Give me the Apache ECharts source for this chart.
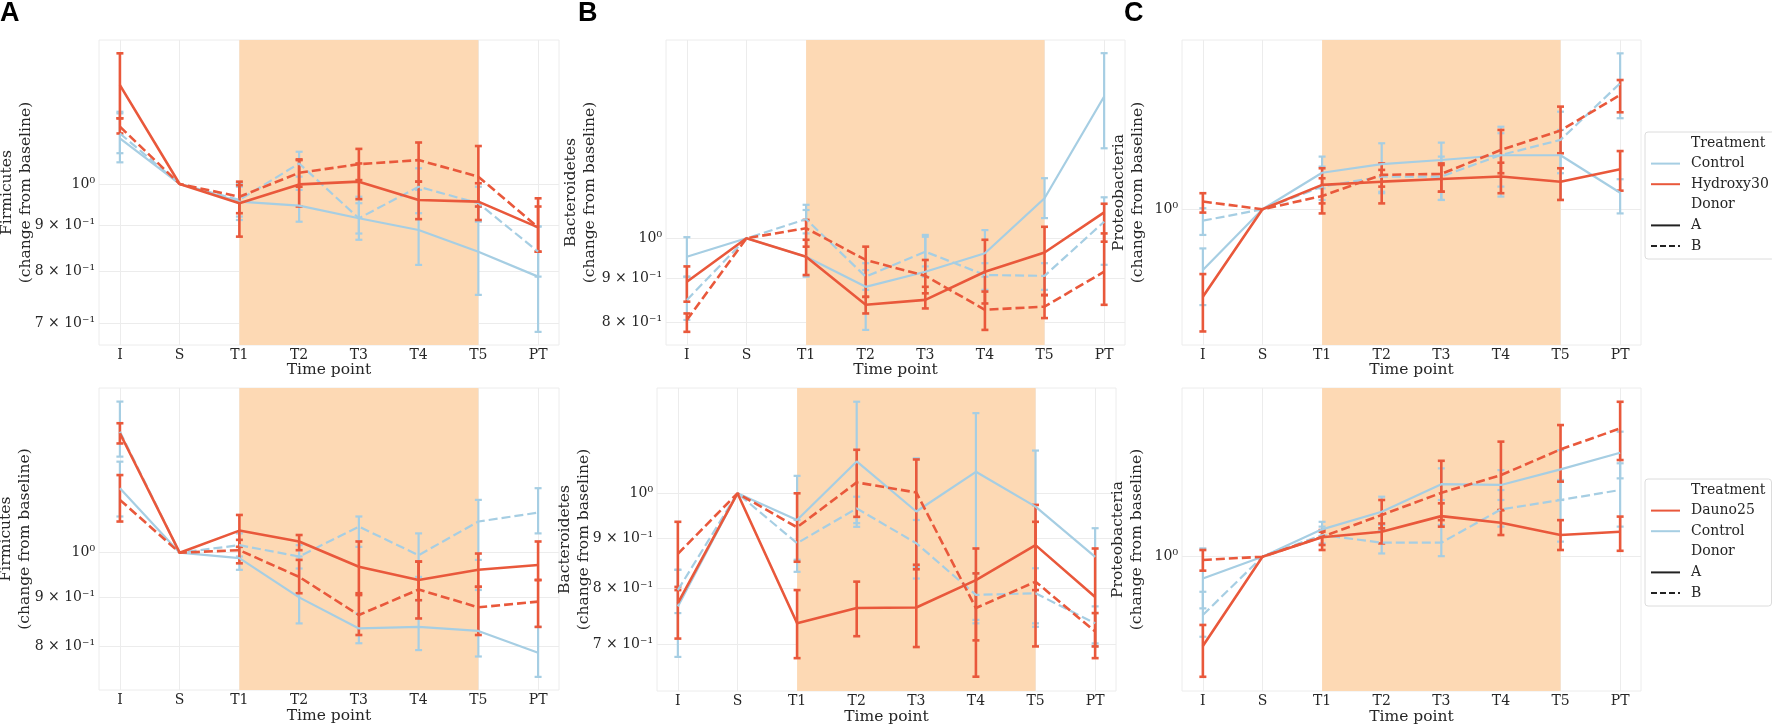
<!DOCTYPE html>
<html><head><meta charset="utf-8">
<script src="https://cdn.jsdelivr.net/npm/echarts@6/dist/echarts.min.js"></script>
<style>html,body{margin:0;padding:0;background:#fff}#c{width:1772px;height:728px}</style>
</head><body><div id="c"></div>
<script>
// ---------------- categories & tick labels ----------------
const timePoints = ['I', 'S', 'T1', 'T2', 'T3', 'T4', 'T5', 'PT'];
const yTickLabel = { '0.7': '7 × 10⁻¹', '0.8': '8 × 10⁻¹', '0.9': '9 × 10⁻¹', '1': '10⁰' };
const yTicksFirmHyd = [0.7, 0.8, 0.9, 1];
const yTicksFirmDau = [0.8, 0.9, 1];
const yTicksBactHyd = [0.8, 0.9, 1];
const yTicksBactDau = [0.7, 0.8, 0.9, 1];
const yTicksProt = [1];

// ---------------- A top: Firmicutes, Hydroxy30 ----------------
const firmHyd_ctrlA    = [1.124, 1, 0.956, 0.946, 0.916, 0.889, 0.841, 0.789];
const firmHyd_ctrlA_hi = [1.203, null, 0.993, 0.985, 0.968, 0.985, 0.944, 0.897];
const firmHyd_ctrlA_lo = [1.057, null, 0.920, 0.908, 0.867, 0.813, 0.753, 0.685];
const firmHyd_ctrlB    = [1.138, 1, 0.960, 1.054, 0.916, 0.993, 0.952, 0.841];
const firmHyd_ctrlB_hi = [1.198, null, 1.003, 1.086, 0.952, 1.041, 0.993, 0.897];
const firmHyd_ctrlB_lo = [1.082, null, 0.912, 1.019, 0.881, 0.928, 0.908, 0.789];
const firmHyd_trtA     = [1.288, 1, 0.952, 0.999, 1.006, 0.960, 0.956, 0.895];
const firmHyd_trtA_hi  = [1.397, null, 0.997, 1.065, 1.054, 1.006, 1.002, 0.964];
const firmHyd_trtA_lo  = [1.183, null, 0.874, 0.944, 0.962, 0.914, 0.912, 0.841];
const firmHyd_trtB     = [1.158, 1, 0.968, 1.029, 1.052, 1.063, 1.019, 0.895];
const firmHyd_trtB_hi  = [1.183, null, 1.006, 1.063, 1.094, 1.112, 1.102, 0.944];
const firmHyd_trtB_lo  = [1.138, null, 0.928, 0.993, 1.010, 1.006, 0.944, 0.841];

// ---------------- B top: Bacteroidetes, Hydroxy30 ----------------
const bactHyd_ctrlA    = [0.952, 1, 0.952, 0.879, 0.915, 0.961, 1.112, 1.457];
const bactHyd_ctrlA_hi = [1.003, null, 1.093, 0.919, 1.004, 1.022, 1.173, 1.635];
const bactHyd_ctrlA_lo = [0.903, null, 0.903, 0.784, 0.903, 0.903, 1.055, 1.270];
const bactHyd_ctrlB    = [0.849, 1, 1.052, 0.903, 0.965, 0.907, 0.905, 1.045];
const bactHyd_ctrlB_hi = [0.903, null, 1.078, 0.936, 1.009, 0.936, 0.936, 1.115];
const bactHyd_ctrlB_lo = [0.805, null, 1.013, 0.872, 0.928, 0.872, 0.872, 0.932];
const bactHyd_trtA     = [0.891, 1, 0.952, 0.838, 0.849, 0.915, 0.963, 1.071];
const bactHyd_trtA_hi  = [0.928, null, 0.996, 0.856, 0.879, 0.996, 1.031, 1.096];
const bactHyd_trtA_lo  = [0.845, null, 0.907, 0.819, 0.830, 0.841, 0.860, 0.991];
const bactHyd_trtB     = [0.805, 1, 1.027, 0.944, 0.905, 0.827, 0.834, 0.915];
const bactHyd_trtB_hi  = [0.819, null, 1.050, 0.978, 0.944, 0.868, 0.860, 1.013];
const bactHyd_trtB_lo  = [0.780, null, 0.978, 0.856, 0.864, 0.784, 0.809, 0.838];

// ---------------- C top: Proteobacteria, Hydroxy30 ----------------
const protHyd_ctrlA    = [0.800, 1, 1.144, 1.181, 1.199, 1.220, 1.220, 1.063];
const protHyd_ctrlA_hi = [0.866, null, 1.214, 1.275, 1.278, 1.355, 1.339, 1.117];
const protHyd_ctrlA_lo = [0.703, null, 1.080, 1.061, 1.035, 1.048, 1.035, 0.985];
const protHyd_ctrlB    = [0.959, 1, 1.087, 1.128, 1.128, 1.221, 1.291, 1.590];
const protHyd_ctrlB_hi = [1.004, null, 1.170, 1.184, 1.214, 1.323, 1.432, 1.775];
const protHyd_ctrlB_lo = [0.910, null, 1.035, 1.067, 1.035, 1.087, 1.142, 1.398];
const protHyd_trtA     = [0.725, 1, 1.094, 1.107, 1.118, 1.128, 1.107, 1.159];
const protHyd_trtA_hi  = [0.788, null, 1.163, 1.156, 1.184, 1.187, 1.163, 1.239];
const protHyd_trtA_lo  = [0.638, null, 1.022, 1.022, 1.067, 1.061, 1.035, 1.071];
const protHyd_trtB     = [1.029, 1, 1.050, 1.135, 1.139, 1.244, 1.336, 1.523];
const protHyd_trtB_hi  = [1.061, null, 1.121, 1.184, 1.177, 1.339, 1.459, 1.609];
const protHyd_trtB_lo  = [0.988, null, 0.985, 1.087, 1.067, 1.142, 1.229, 1.429];

// ---------------- A bottom: Firmicutes, Dauno25 ----------------
const firmDau_ctrlA    = [1.166, 1, 0.987, 0.899, 0.835, 0.838, 0.830, 0.788];
const firmDau_ctrlA_hi = [1.242, null, 1.014, 0.991, 0.865, 0.893, 0.915, 0.838];
const firmDau_ctrlA_lo = [1.090, null, 0.960, 0.845, 0.806, 0.793, 0.781, 0.744];
const firmDau_ctrlB    = [1.334, 1, 1.018, 0.991, 1.064, 0.994, 1.077, 1.100];
const firmDau_ctrlB_hi = [1.433, null, 1.047, 1.018, 1.090, 1.047, 1.134, 1.166];
const firmDau_ctrlB_lo = [1.257, null, 0.991, 0.963, 1.014, 0.944, 0.983, 1.047];
const firmDau_trtA     = [1.329, 1, 1.054, 1.027, 0.967, 0.937, 0.960, 0.971];
const firmDau_trtA_hi  = [1.361, null, 1.094, 1.043, 1.027, 0.979, 0.998, 1.027];
const firmDau_trtA_lo  = [1.297, null, 1.014, 1.006, 0.908, 0.893, 0.922, 0.937];
const firmDau_trtB     = [1.134, 1, 1.006, 0.944, 0.862, 0.916, 0.878, 0.890];
const firmDau_trtB_hi  = [1.203, null, 1.031, 0.983, 0.904, 0.979, 0.922, 0.937];
const firmDau_trtB_lo  = [1.077, null, 0.975, 0.908, 0.822, 0.855, 0.822, 0.838];

// ---------------- B bottom: Bacteroidetes, Dauno25 ----------------
const bactDau_ctrlA    = [0.766, 1, 0.939, 1.078, 0.958, 1.052, 0.969, 0.861];
const bactDau_ctrlA_hi = [0.835, null, 1.042, 1.241, 1.086, 1.208, 1.106, 0.921];
const bactDau_ctrlA_lo = [0.680, null, 0.831, 0.932, 0.818, 0.736, 0.730, 0.697];
const bactDau_ctrlB    = [0.796, 1, 0.889, 0.965, 0.889, 0.787, 0.790, 0.736];
const bactDau_ctrlB_hi = [0.835, null, 0.939, 0.992, 0.939, 0.828, 0.838, 0.766];
const bactDau_ctrlB_lo = [0.754, null, 0.855, 0.924, 0.841, 0.742, 0.736, 0.702];
const bactDau_trtA     = [0.772, 1, 0.736, 0.763, 0.764, 0.815, 0.885, 0.783];
const bactDau_trtA_hi  = [0.802, null, 0.796, 0.812, 0.845, 0.878, 0.935, 0.878];
const bactDau_trtA_lo  = [0.710, null, 0.678, 0.714, 0.696, 0.707, 0.796, 0.697];
const bactDau_trtB     = [0.867, 1, 0.923, 1.026, 1.002, 0.763, 0.812, 0.722];
const bactDau_trtB_hi  = [0.935, null, 1.000, 1.108, 1.083, 0.828, 0.973, 0.754];
const bactDau_trtB_lo  = [0.796, null, 0.851, 0.946, 0.836, 0.649, 0.697, 0.678];

// ---------------- C bottom: Proteobacteria, Dauno25 ----------------
const protDau_ctrlA    = [0.923, 1, 1.106, 1.180, 1.306, 1.302, 1.379, 1.466];
const protDau_ctrlA_hi = [1.031, null, 1.137, 1.247, 1.384, 1.375, 1.480, 1.584];
const protDau_ctrlA_lo = [0.827, null, 1.076, 1.103, 1.232, 1.232, 1.232, 1.334];
const protDau_ctrlB    = [0.807, 1, 1.083, 1.053, 1.053, 1.190, 1.232, 1.278];
const protDau_ctrlB_hi = [0.879, null, 1.117, 1.124, 1.124, 1.278, 1.326, 1.410];
const protDau_ctrlB_lo = [0.745, null, 1.050, 1.012, 1.002, 1.117, 1.057, 1.117];
const protDau_trtA     = [0.720, 1, 1.074, 1.096, 1.161, 1.133, 1.083, 1.096];
const protDau_trtA_hi  = [0.778, null, 1.103, 1.130, 1.217, 1.187, 1.144, 1.159];
const protDau_trtA_lo  = [0.643, null, 1.025, 1.050, 1.117, 1.083, 1.025, 1.022];
const protDau_trtB     = [0.988, 1, 1.076, 1.166, 1.265, 1.350, 1.484, 1.603];
const protDau_trtB_hi  = [1.025, null, 1.096, 1.232, 1.423, 1.527, 1.623, 1.768];
const protDau_trtB_lo  = [0.950, null, 1.044, 1.110, 1.144, 1.187, 1.318, 1.427];

// ---------------- styling ----------------
const BLUE = '#a6cee3', RED = '#e9583b', SHADE = '#fdd9b4', GRIDC = '#ececec', TXT = '#262626';
const SERIF = 'DejaVu Serif';
const DASH = [9, 4];

function grp(trtName, cA, cAhi, cAlo, cB, cBhi, cBlo, tA, tAhi, tAlo, tB, tBhi, tBlo) {
  return [
    { name: 'Control A', color: BLUE, width: 2.2, dash: false, m: cA, hi: cAhi, lo: cAlo },
    { name: 'Control B', color: BLUE, width: 2.2, dash: true,  m: cB, hi: cBhi, lo: cBlo },
    { name: trtName + ' A', color: RED, width: 2.6, dash: false, m: tA, hi: tAhi, lo: tAlo },
    { name: trtName + ' B', color: RED, width: 2.6, dash: true,  m: tB, hi: tBhi, lo: tBlo }
  ];
}

const panels = [
  { grid: { left: 99,   top: 40,  width: 460, height: 305 }, yName: 'Firmicutes',     ticks: yTicksFirmHyd, yr: [-0.1789, 0.1600], nameGap: 64, xGap: 17,
    sers: grp('Hydroxy30', firmHyd_ctrlA, firmHyd_ctrlA_hi, firmHyd_ctrlA_lo, firmHyd_ctrlB, firmHyd_ctrlB_hi, firmHyd_ctrlB_lo,
                           firmHyd_trtA, firmHyd_trtA_hi, firmHyd_trtA_lo, firmHyd_trtB, firmHyd_trtB_hi, firmHyd_trtB_lo) },
  { grid: { left: 666,  top: 40,  width: 459, height: 305 }, yName: 'Bacteroidetes',  ticks: yTicksBactHyd, yr: [-0.1231, 0.2287], nameGap: 67, xGap: 17,
    sers: grp('Hydroxy30', bactHyd_ctrlA, bactHyd_ctrlA_hi, bactHyd_ctrlA_lo, bactHyd_ctrlB, bactHyd_ctrlB_hi, bactHyd_ctrlB_lo,
                           bactHyd_trtA, bactHyd_trtA_hi, bactHyd_trtA_lo, bactHyd_trtB, bactHyd_trtB_hi, bactHyd_trtB_lo) },
  { grid: { left: 1182, top: 40,  width: 459, height: 305 }, yName: 'Proteobacteria', ticks: yTicksProt,    yr: [-0.2168, 0.2705], nameGap: 35, xGap: 17,
    sers: grp('Hydroxy30', protHyd_ctrlA, protHyd_ctrlA_hi, protHyd_ctrlA_lo, protHyd_ctrlB, protHyd_ctrlB_hi, protHyd_ctrlB_lo,
                           protHyd_trtA, protHyd_trtA_hi, protHyd_trtA_lo, protHyd_trtB, protHyd_trtB_hi, protHyd_trtB_lo) },
  { grid: { left: 99,   top: 388, width: 460, height: 302 }, yName: 'Firmicutes',     ticks: yTicksFirmDau, yr: [-0.1420, 0.1703], nameGap: 65, xGap: 18,
    sers: grp('Dauno25', firmDau_ctrlA, firmDau_ctrlA_hi, firmDau_ctrlA_lo, firmDau_ctrlB, firmDau_ctrlB_hi, firmDau_ctrlB_lo,
                         firmDau_trtA, firmDau_trtA_hi, firmDau_trtA_lo, firmDau_trtB, firmDau_trtB_hi, firmDau_trtB_lo) },
  { grid: { left: 657,  top: 388, width: 459, height: 303 }, yName: 'Bacteroidetes',  ticks: yTicksBactDau, yr: [-0.2024, 0.1078], nameGap: 64, xGap: 18,
    sers: grp('Dauno25', bactDau_ctrlA, bactDau_ctrlA_hi, bactDau_ctrlA_lo, bactDau_ctrlB, bactDau_ctrlB_hi, bactDau_ctrlB_lo,
                         bactDau_trtA, bactDau_trtA_hi, bactDau_trtA_lo, bactDau_trtB, bactDau_trtB_hi, bactDau_trtB_lo) },
  { grid: { left: 1182, top: 388, width: 459, height: 303 }, yName: 'Proteobacteria', ticks: yTicksProt,    yr: [-0.2145, 0.2695], nameGap: 36, xGap: 18,
    sers: grp('Dauno25', protDau_ctrlA, protDau_ctrlA_hi, protDau_ctrlA_lo, protDau_ctrlB, protDau_ctrlB_hi, protDau_ctrlB_lo,
                         protDau_trtA, protDau_trtA_hi, protDau_trtA_lo, protDau_trtB, protDau_trtB_hi, protDau_trtB_lo) }
];

const xIdx = timePoints.map((_, i) => i);

function errRender(color, width) {
  return function (params, api) {
    const x = api.value(0), lo = api.value(1), hi = api.value(2);
    const p1 = api.coord([x, lo]), p2 = api.coord([x, hi]);
    const cw = 3.5;
    const st = { stroke: color, lineWidth: width, lineCap: 'butt' };
    return { type: 'group', children: [
      { type: 'line', shape: { x1: p1[0], y1: p1[1], x2: p2[0], y2: p2[1] }, style: st },
      { type: 'line', shape: { x1: p1[0] - cw, y1: p1[1], x2: p1[0] + cw, y2: p1[1] }, style: st },
      { type: 'line', shape: { x1: p2[0] - cw, y1: p2[1], x2: p2[0] + cw, y2: p2[1] }, style: st }
    ] };
  };
}

const grids = [], xAxes = [], yAxes = [], series = [];
panels.forEach((p, i) => {
  grids.push(Object.assign({ show: true, borderColor: GRIDC, borderWidth: 1, backgroundColor: 'transparent',
    containLabel: false, outerBoundsMode: 'none' }, p.grid));
  xAxes.push({
    type: 'value', gridIndex: i, min: -0.35, max: 7.35,
    name: 'Time point', nameLocation: 'middle', nameGap: p.xGap, nameMoveOverlap: false,
    nameTextStyle: { fontFamily: SERIF, fontSize: 15.5, color: TXT },
    axisLine: { show: false },
    axisTick: { show: false, customValues: xIdx },
    axisLabel: { customValues: xIdx, margin: 3, fontFamily: SERIF, fontSize: 14, color: TXT,
      formatter: v => timePoints[Math.round(v)] },
    splitLine: { show: true, lineStyle: { color: GRIDC, width: 1 } }
  });
  const tickLogs = p.ticks.map(t => Math.log10(t));
  yAxes.push({
    type: 'value', gridIndex: i, min: p.yr[0], max: p.yr[1],
    name: p.yName + '\n(change from baseline)', nameLocation: 'middle', nameGap: p.nameGap, nameRotate: 90,
    nameMoveOverlap: false,
    nameTextStyle: { fontFamily: SERIF, fontSize: 15.5, color: TXT, lineHeight: 19, align: 'center' },
    axisLine: { show: false },
    axisTick: { show: false, customValues: tickLogs },
    axisLabel: { customValues: tickLogs, margin: 4, fontFamily: SERIF, fontSize: 14, color: TXT,
      formatter: v => yTickLabel[String(Math.round(Math.pow(10, v) * 10) / 10)] || '' },
    splitLine: { show: true, lineStyle: { color: GRIDC, width: 1 } }
  });
  series.push({
    type: 'line', name: 'window' + i, xAxisIndex: i, yAxisIndex: i, data: [[2, 0]], showSymbol: false, symbol: 'none',
    lineStyle: { opacity: 0 }, silent: true,
    markArea: { silent: true, itemStyle: { color: SHADE, opacity: 1 }, data: [[{ xAxis: 2 }, { xAxis: 6 }]] }
  });
  p.sers.forEach(s => {
    series.push({
      type: 'line', name: s.name, xAxisIndex: i, yAxisIndex: i, z: 3,
      data: s.m.map((v, k) => [k, Math.log10(v)]), symbol: 'none', silent: true,
      lineStyle: { color: s.color, width: s.width, type: s.dash ? DASH : 'solid' },
      itemStyle: { color: s.color }
    });
    const ed = [];
    s.hi.forEach((h, k) => { if (h != null) ed.push([k, Math.log10(s.lo[k]), Math.log10(h)]); });
    series.push({
      type: 'custom', name: s.name + ' err', xAxisIndex: i, yAxisIndex: i, z: 3, silent: true,
      data: ed, encode: { x: 0, y: [1, 2] }, renderItem: errRender(s.color, s.width)
    });
  });
});

const legendProxy = [
  { name: 'Treatment', color: 'rgba(0,0,0,0)', dash: false },
  { name: 'Control', color: BLUE, dash: false },
  { name: 'Hydroxy30', color: RED, dash: false },
  { name: 'Dauno25', color: RED, dash: false },
  { name: 'Donor', color: 'rgba(0,0,0,0)', dash: false },
  { name: 'A', color: '#222', dash: false },
  { name: 'B', color: '#222', dash: true }
];
legendProxy.forEach(l => series.push({
  type: 'line', name: l.name, xAxisIndex: 0, yAxisIndex: 0, data: [], symbol: 'none',
  lineStyle: { color: l.color, width: 3, type: l.dash ? [6, 3] : 'solid' }, itemStyle: { color: l.color }
}));

const legendCommon = {
  orient: 'vertical', left: 1645, itemWidth: 29, itemHeight: 14, itemGap: 6.6,
  padding: [4, 6, 6, 5], selectedMode: false,
  itemStyle: { opacity: 0 },
  backgroundColor: '#fff', borderColor: '#dcdcdc', borderWidth: 1, borderRadius: 3,
  textStyle: { fontFamily: SERIF, fontSize: 14, color: TXT, padding: [0, 0, 0, 6] }
};

const titleStyle = { fontFamily: 'Liberation Sans', fontWeight: 'bold', fontSize: 27, color: '#000' };
const option = {
  animation: false,
  backgroundColor: '#fff',
  title: [
    { text: 'A', left: 0, top: 0, padding: 0, textStyle: titleStyle },
    { text: 'B', left: 578, top: 0, padding: 0, textStyle: titleStyle },
    { text: 'C', left: 1124, top: 0, padding: 0, textStyle: titleStyle }
  ],
  legend: [
    Object.assign({}, legendCommon, { top: 132, data: [{ name: 'Treatment', icon: 'none' }, 'Control', 'Hydroxy30', { name: 'Donor', icon: 'none' }, 'A', 'B'] }),
    Object.assign({}, legendCommon, { top: 479, data: [{ name: 'Treatment', icon: 'none' }, 'Dauno25', 'Control', { name: 'Donor', icon: 'none' }, 'A', 'B'] })
  ],
  grid: grids, xAxis: xAxes, yAxis: yAxes, series: series
};

const chart = echarts.init(document.getElementById('c'), null, { renderer: 'canvas' });
chart.setOption(option);
</script>
</body></html>
